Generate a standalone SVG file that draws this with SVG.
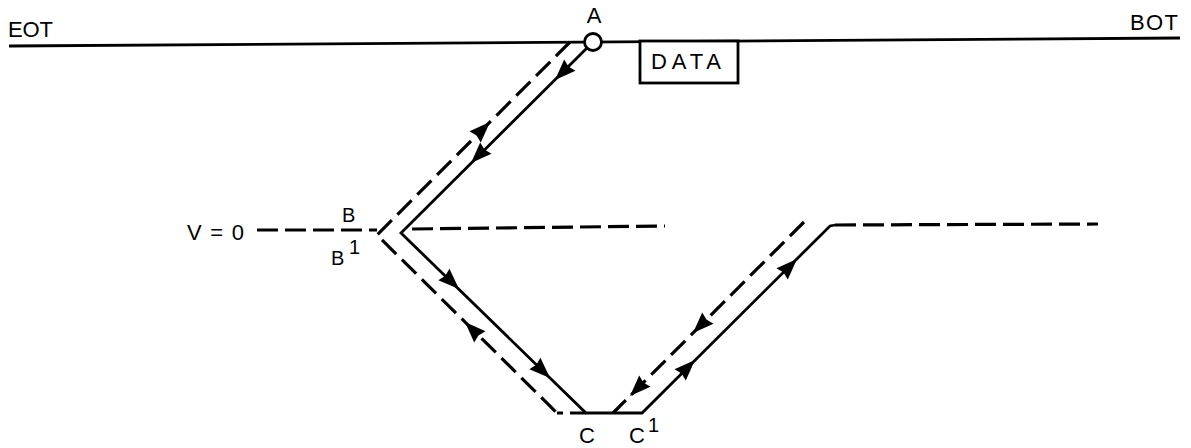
<svg xmlns="http://www.w3.org/2000/svg" width="1191" height="448" viewBox="0 0 1191 448">
<style>
.s{fill:none;stroke:#000;stroke-width:2.8;stroke-linecap:butt;stroke-linejoin:miter}
.d{fill:none;stroke:#000;stroke-width:3.2;stroke-dasharray:20 8}
.h{fill:none;stroke:#000;stroke-width:3.2;stroke-dasharray:21 7}
.t{font-family:"Liberation Sans",Arial,sans-serif;font-size:22px;fill:#000}
.sm{font-family:"Liberation Sans",Arial,sans-serif;font-size:20px;fill:#000}
</style>
<defs>
<path id="ah" d="M0,0 L-21,-8 L-19,0 L-21,8 Z" fill="#000"/>
</defs>
<g id="tape">
<line class="s" x1="9" y1="46" x2="1180" y2="38"/>
<text class="t" x="8" y="37" textLength="45" lengthAdjust="spacing">EOT</text>
<text class="t" x="1130" y="30" textLength="48" lengthAdjust="spacing">BOT</text>
</g>
<g id="data">
<rect x="640" y="41" width="98" height="42" fill="#fff" stroke="#000" stroke-width="2.8"/>
<text class="t" x="651" y="69" textLength="70" lengthAdjust="spacing">DATA</text>
</g>
<g id="v0">
<text class="t" x="187" y="240" textLength="57" lengthAdjust="spacing">V = 0</text>
<line class="h" x1="257" y1="230" x2="377" y2="230"/>
<line class="h" x1="412" y1="229" x2="665" y2="226"/>
<line class="h" x1="835" y1="225" x2="1098" y2="224"/>
</g>
<g id="connectors">
<polyline class="s" points="587,48 401,233 586,413 642,413 830,226 835,225"/>
<polyline class="d" points="570,42 377,235 557,413"/>
<line x1="557" y1="413" x2="586" y2="413" stroke="#000" stroke-width="3" stroke-dasharray="6 7 30"/>
<polyline class="d" points="804,222 613,413"/>
<use href="#ah" transform="translate(555,80) rotate(135)"/>
<use href="#ah" transform="translate(471,163) rotate(135)"/>
<use href="#ah" transform="translate(490,122) rotate(-45)"/>
<use href="#ah" transform="translate(459,289) rotate(44)"/>
<use href="#ah" transform="translate(550,378) rotate(44)"/>
<use href="#ah" transform="translate(465,322) rotate(-135)"/>
<use href="#ah" transform="translate(693,333) rotate(135)"/>
<use href="#ah" transform="translate(630,396) rotate(135)"/>
<use href="#ah" transform="translate(695,360) rotate(-45)"/>
<use href="#ah" transform="translate(797,259) rotate(-45)"/>
</g>
<g id="A">
<circle cx="593" cy="42" r="8.5" fill="#fff" stroke="#000" stroke-width="2.8"/>
<text class="t" x="594" y="23" text-anchor="middle">A</text>
</g>
<g id="B">
<text class="sm" x="342" y="222">B</text>
<text class="sm" x="331" y="265">B</text>
<text class="sm" x="349" y="254">1</text>
</g>
<g id="C">
<text class="t" x="579" y="443">C</text>
<text class="t" x="629" y="443">C</text>
<text class="sm" x="648" y="432">1</text>
</g>
</svg>
